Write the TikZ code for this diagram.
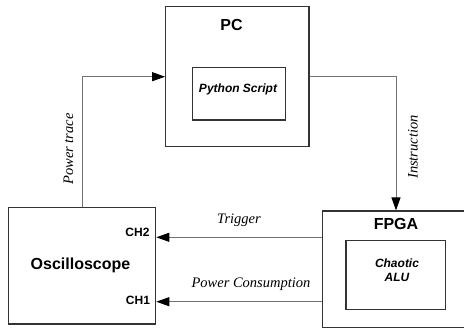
\documentclass[tikz,border=0pt]{standalone}
\usepackage{fontspec}
\setmainfont{Liberation Serif}
\setsansfont{Liberation Sans}
\usetikzlibrary{arrows.meta}
\begin{document}
\begin{tikzpicture}[x=1pt,y=-1pt,
  box/.style={draw=black!80, line width=1.2pt, inner sep=0pt, rectangle},
  conn/.style={draw=black!55, line width=1pt,
    -{Triangle[length=13pt,width=9pt,fill=black,color=black]}},
  title/.style={font=\sffamily\bfseries\fontsize{16}{18}\selectfont},
  chan/.style={font=\sffamily\bfseries\fontsize{12}{14}\selectfont},
  inner/.style={font=\sffamily\bfseries\itshape\fontsize{12}{14}\selectfont, align=center},
  lbl/.style={font=\itshape\fontsize{14.5}{16}\selectfont}]
\useasboundingbox (0,0) rectangle (464,330);

% blocks
\node[box, minimum width=143.3pt, minimum height=140pt] (pc) at (237.35,76.7) {};
\node[box, minimum width=92.6pt, minimum height=52.7pt] (py) at (239,93.65) {};
\node[box, minimum width=147.4pt, minimum height=116.7pt] (osc) at (82,265.65) {};
\node[box, minimum width=147.4pt, minimum height=116.7pt] (fpga) at (396,269.35) {};
\node[box, minimum width=99.7pt, minimum height=68.6pt] (alu) at (395.85,275) {};

% block texts
\node[title] (pct) at (231.5,25) {PC};
\node[inner] (pyt) at (238,89) {Python Script};
\node[title] (osct) at (80.5,265) {Oscilloscope};
\node[title] (fpgat) at (396,223.5) {FPGA};
\node[inner, inner sep=0pt] (alut) at (397,270) {Chaotic\\ALU};
\node[chan] (ch2) at (137.5,232.5) {CH2};
\node[chan] (ch1) at (138,300) {CH1};

% connector levels
\coordinate (trig) at (0,237.3);
\coordinate (pwr) at (0,301.7);

% connectors
\draw[conn] (osc.north) |- (pc.west);
\draw[conn] (pc.east) -| (fpga.north);
\draw[conn] (fpga.west |- trig) -- (osc.east |- trig);
\draw[conn] (fpga.west |- pwr) -- (osc.east |- pwr);

% connector labels
\node[lbl, rotate=90] (lpt) at (68.5,149) {Power trace};
\node[lbl, rotate=90] (lin) at (413,147) {Instruction};
\node[lbl] (ltr) at (239,220.5) {Trigger};
\node[lbl] (lpc) at (251,284.5) {Power Consumption};
\end{tikzpicture}
\end{document}
